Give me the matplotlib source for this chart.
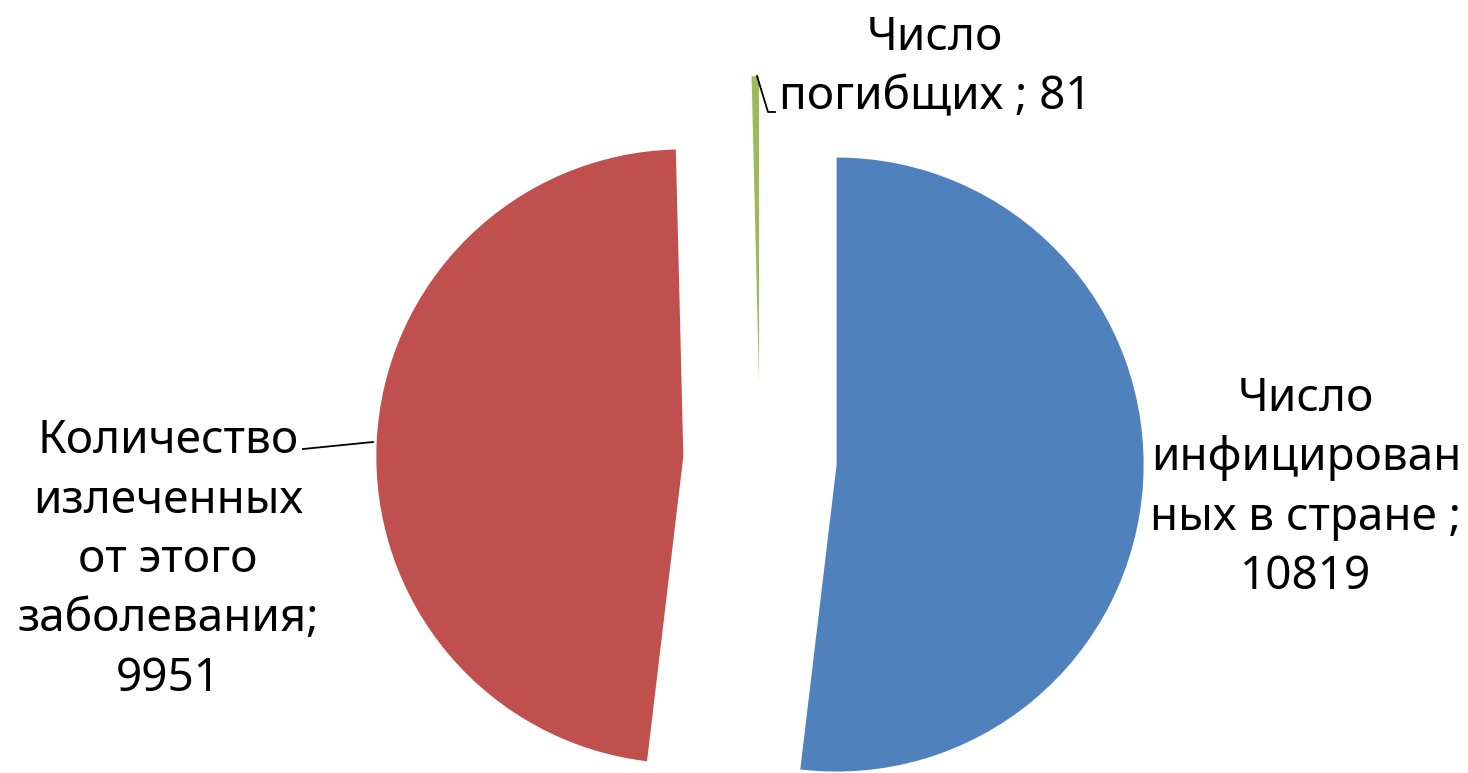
import matplotlib
matplotlib.use("Agg")
import matplotlib.pyplot as plt

# Data
categories = ["Число инфицированных в стране ", "Количество излеченных от этого заболевания", "Число погибщих "]
values = [10819, 9951, 81]
label_names = ["Число\nинфицирован\nных в стране ;", "Количество\nизлеченных\nот этого\nзаболевания;", "Число\nпогибщих ;"]
label_seps = ["\n", "\n", " "]
colors = ["#4F81BD", "#C0504D", "#9BBB59"]

W, H = 1468, 773
fig = plt.figure(figsize=(W / 100, H / 100), dpi=100)
ax = fig.add_axes([0, 0, 1, 1])

R = 307
ax.pie(values, colors=colors, startangle=90, counterclock=False,
       center=(760, H - 460), radius=R, explode=[0.25 * R] * 3,
       wedgeprops=dict(linewidth=0), frame=False)
ax.set_xlim(0, W)
ax.set_ylim(0, H)
ax.set_aspect("auto")
ax.axis("off")

font = dict(family=["Noto Sans", "DejaVu Sans"], fontsize=33, color="black",
            ha="center", va="center", linespacing=1.38)
labels = [f"{n}{s}{v}" for n, s, v in zip(label_names, label_seps, values)]
label_pos = [(1306, H - 488), (168, H - 560), (935, H - 68)]
for txt, (x, y) in zip(labels, label_pos):
    ax.text(x, y, txt, **font)

# leader lines
ax.plot([303, 373], [H - 449, H - 442], color="black", lw=1.3)
ax.plot([757, 768, 775], [H - 76, H - 112, H - 112], color="black", lw=1.3)

fig.savefig("out.png", dpi=100)
